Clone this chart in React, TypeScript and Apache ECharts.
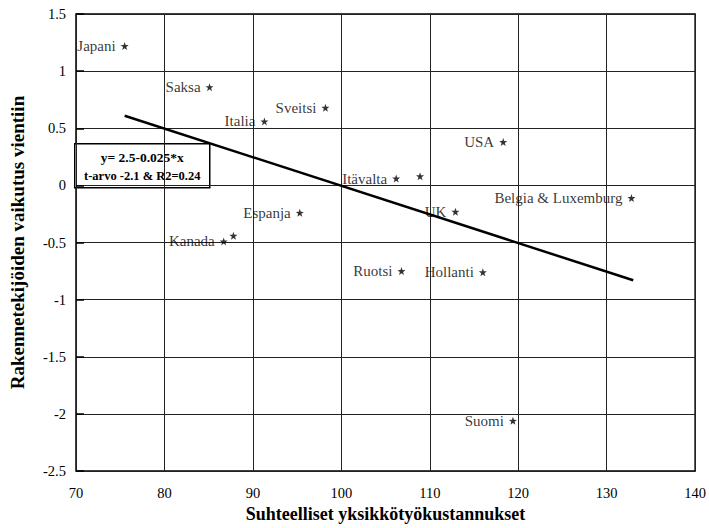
import React, { useEffect, useRef } from "react";
import * as echarts from "echarts";

const countries = ["Japani", "Saksa", "Italia", "Sveitsi", "USA", "Itävalta", "", "Belgia & Luxemburg", "UK", "Espanja", "Kanada", "", "Ruotsi", "Hollanti", "Suomi"];
const costs = [75.5, 85.1, 91.3, 98.2, 118.3, 106.2, 108.9, 132.8, 112.9, 95.3, 86.7, 87.8, 106.8, 116.0, 119.4];
const effects = [1.22, 0.86, 0.56, 0.68, 0.38, 0.06, 0.08, -0.11, -0.23, -0.24, -0.49, -0.44, -0.75, -0.76, -2.06];
const trendX = [75.5, 133];
const trendY = [0.61, -0.83];
const equationLines = ["y= 2.5-0.025*x", "t-arvo -2.1 & R2=0.24"];
const xTitle = "Suhteelliset yksikkötyökustannukset";
const yTitle = "Rakennetekijöiden vaikutus vientiin";

const FONT = "'Liberation Serif', 'Times New Roman', serif";
const STAR = "path://M0,-10 L2.35,-3.24 L9.51,-3.09 L3.8,1.24 L5.88,8.09 L0,4 L-5.88,8.09 L-3.8,1.24 L-9.51,-3.09 L-2.35,-3.24 Z";

export default function App() {
  const ref = useRef<HTMLDivElement>(null);
  useEffect(() => {
    if (!ref.current) return;
    const chart = echarts.init(ref.current, undefined, { renderer: "svg" });
    const points = costs.map((x, i) => ({ value: [x, effects[i]], name: countries[i] }));
    chart.setOption({
      animation: false,
      backgroundColor: "#fff",
      grid: { left: 70, right: 12, top: 14, bottom: 51, show: true, borderColor: "#000", borderWidth: 1.5, backgroundColor: "transparent" },
      xAxis: {
        type: "value", min: 70, max: 140, interval: 10,
        name: xTitle, nameLocation: "middle", nameGap: 28,
        nameTextStyle: { fontFamily: FONT, fontWeight: "bold", fontSize: 18, color: "#000" },
        axisLine: { show: false }, axisTick: { show: false },
        axisLabel: { fontFamily: FONT, fontSize: 14.5, color: "#000", margin: 14 },
        splitLine: { show: true, lineStyle: { color: "#222", width: 1 } },
      },
      yAxis: {
        type: "value", min: -2.5, max: 1.5, interval: 0.5,
        name: yTitle, nameLocation: "middle", nameGap: 49,
        nameTextStyle: { fontFamily: FONT, fontWeight: "bold", fontSize: 19, color: "#000" },
        axisLine: { show: false },
        axisTick: { show: true, inside: true, length: 8, lineStyle: { color: "#000", width: 1.5 } },
        axisLabel: { fontFamily: FONT, fontSize: 14.5, color: "#000", margin: 10 },
        splitLine: { show: true, lineStyle: { color: "#222", width: 1 } },
      },
      series: [
        {
          type: "line",
          data: trendX.map((x, i) => [x, trendY[i]]),
          symbol: "none",
          lineStyle: { color: "#000", width: 2.5 },
          z: 3,
        },
        {
          type: "scatter",
          data: points,
          symbol: STAR,
          symbolSize: 8,
          itemStyle: { color: "#000" },
          label: {
            show: true, position: "left", distance: 5,
            formatter: (p: any) => p.name,
            fontFamily: FONT, fontSize: 15, color: "#000",
          },
          z: 4,
        },
      ],
      graphic: [
        {
          type: "group", left: 74, top: 143, z: 10,
          children: [
            { type: "rect", shape: { x: 0, y: 0, width: 135, height: 44 }, style: { fill: "#fff", stroke: "#000", lineWidth: 1.5 } },
            { type: "text", x: 67.5, y: 14, style: { text: equationLines[0], fill: "#000", font: `bold 13.5px ${FONT}`, align: "center", verticalAlign: "middle" } },
            { type: "text", x: 67.5, y: 32, style: { text: equationLines[1], fill: "#000", font: `bold 12.5px ${FONT}`, align: "center", verticalAlign: "middle" } },
          ],
        },
      ],
    });
    return () => chart.dispose();
  }, []);
  return <div ref={ref} style={{ position: "fixed", left: 0, top: 0, width: 709, height: 528 }} />;
}
